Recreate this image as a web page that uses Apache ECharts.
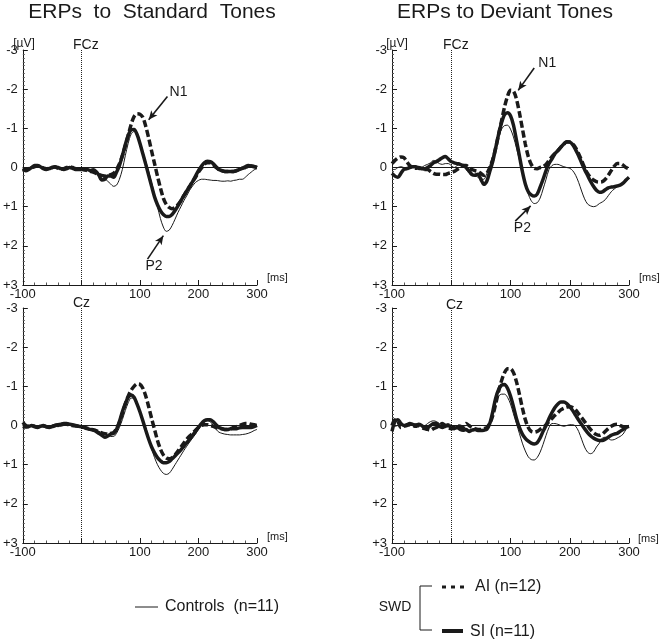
<!DOCTYPE html>
<html><head><meta charset="utf-8">
<script src="https://cdn.jsdelivr.net/npm/echarts@6/dist/echarts.min.js"></script>
<style>html,body{margin:0;padding:0;background:#fff}#c{width:660px;height:642px}</style>
</head><body><div id="c"></div>
<script>
// ---- data (ms, µV) ----
const times = [
  -100, -95, -90, -85, -80, -75, -70, -65, -60, -55,
  -50, -45, -40, -35, -30, -25, -20, -15, -10, -5,
  0, 5, 10, 15, 20, 25, 30, 35, 40, 45,
  50, 55, 60, 65, 70, 75, 80, 85, 90, 95,
  100, 105, 110, 115, 120, 125, 130, 135, 140, 145,
  150, 155, 160, 165, 170, 175, 180, 185, 190, 195,
  200, 205, 210, 215, 220, 225, 230, 235, 240, 245,
  250, 255, 260, 265, 270, 275, 280, 285, 290, 295,
  300];

// Standard tones, FCz
const stdFczCtrl = [
  0.00, 0.03, 0.02, 0.00, -0.03, -0.05, -0.03, 0.00, 0.02, 0.00,
  -0.02, 0.00, 0.03, 0.02, 0.00, -0.02, 0.00, 0.02, 0.03, 0.02,
  0.04, 0.05, 0.05, 0.08, 0.10, 0.12, 0.15, 0.20, 0.28, 0.35,
  0.42, 0.48, 0.45, 0.30, 0.05, -0.30, -0.62, -0.85, -0.92, -0.85,
  -0.65, -0.40, -0.15, 0.10, 0.40, 0.70, 1.00, 1.30, 1.52, 1.63,
  1.60, 1.48, 1.32, 1.15, 1.00, 0.85, 0.72, 0.58, 0.47, 0.38,
  0.33, 0.30, 0.30, 0.31, 0.32, 0.33, 0.33, 0.34, 0.35, 0.35,
  0.34, 0.35, 0.33, 0.32, 0.30, 0.30, 0.25, 0.18, 0.12, 0.06,
  0.03];
const stdFczAI = [
  0.02, 0.05, 0.03, 0.00, -0.02, -0.04, -0.02, 0.01, 0.03, 0.02,
  0.00, -0.01, 0.02, 0.04, 0.03, 0.00, -0.02, 0.00, 0.03, 0.04,
  0.04, 0.05, 0.08, 0.10, 0.12, 0.15, 0.18, 0.20, 0.22, 0.20,
  0.18, 0.15, 0.05, -0.10, -0.30, -0.55, -0.82, -1.10, -1.30, -1.37,
  -1.36, -1.28, -1.05, -0.75, -0.42, -0.10, 0.22, 0.52, 0.78, 0.94,
  1.02, 1.05, 1.02, 0.95, 0.85, 0.72, 0.60, 0.48, 0.36, 0.25,
  0.12, 0.02, -0.08, -0.12, -0.12, -0.08, 0.00, 0.05, 0.08, 0.10,
  0.10, 0.10, 0.10, 0.08, 0.05, 0.02, 0.00, -0.03, -0.04, -0.03,
  0.00];
const stdFczSI = [
  0.05, 0.08, 0.05, 0.00, -0.05, -0.05, -0.02, 0.03, 0.05, 0.03,
  0.00, -0.02, 0.00, 0.03, 0.05, 0.03, 0.00, 0.02, 0.05, 0.05,
  0.05, 0.06, 0.05, 0.08, 0.06, 0.10, 0.20, 0.32, 0.30, 0.22,
  0.22, 0.25, 0.12, -0.05, -0.30, -0.58, -0.82, -0.96, -0.97, -0.85,
  -0.62, -0.35, -0.08, 0.20, 0.48, 0.75, 0.95, 1.10, 1.20, 1.25,
  1.25, 1.20, 1.10, 0.98, 0.85, 0.72, 0.60, 0.48, 0.36, 0.22,
  0.08, -0.03, -0.12, -0.16, -0.15, -0.10, -0.02, 0.05, 0.08, 0.10,
  0.10, 0.10, 0.10, 0.08, 0.05, 0.02, -0.02, -0.05, -0.04, -0.02,
  0.00];

// Deviant tones, FCz
const devFczCtrl = [
  0.05, 0.05, 0.00, -0.02, 0.00, 0.02, 0.00, -0.03, 0.00, 0.02,
  0.00, -0.05, -0.08, -0.12, -0.18, -0.15, -0.10, -0.08, -0.10, -0.10,
  -0.05, 0.00, -0.05, -0.08, -0.05, 0.05, 0.15, 0.20, 0.20, 0.25,
  0.30, 0.30, 0.15, -0.05, -0.30, -0.55, -0.80, -0.98, -1.07, -1.08,
  -0.98, -0.78, -0.50, -0.20, 0.10, 0.42, 0.68, 0.85, 0.92, 0.90,
  0.78, 0.55, 0.30, 0.05, -0.05, -0.08, -0.08, -0.05, -0.02, 0.00,
  0.02, 0.08, 0.20, 0.38, 0.60, 0.80, 0.93, 0.98, 1.00, 0.98,
  0.92, 0.88, 0.82, 0.72, 0.62, 0.55, 0.50, 0.46, 0.42, 0.36,
  0.28];
const devFczAI = [
  -0.10, -0.18, -0.24, -0.27, -0.25, -0.15, -0.05, 0.00, 0.02, 0.00,
  0.02, 0.05, 0.05, 0.10, 0.15, 0.17, 0.17, 0.18, 0.18, 0.15,
  0.13, 0.10, 0.05, 0.00, -0.05, -0.05, 0.00, 0.05, 0.08, 0.10,
  0.15, 0.20, 0.15, 0.00, -0.20, -0.50, -0.85, -1.20, -1.55, -1.82,
  -1.97, -1.95, -1.75, -1.40, -1.00, -0.60, -0.28, -0.08, 0.02, 0.03,
  0.00, -0.02, -0.08, -0.18, -0.28, -0.36, -0.43, -0.52, -0.60, -0.65,
  -0.65, -0.60, -0.50, -0.35, -0.18, 0.00, 0.15, 0.25, 0.32, 0.36,
  0.37, 0.36, 0.30, 0.20, 0.08, -0.03, -0.10, -0.10, -0.06, 0.00,
  0.03];
const devFczSI = [
  0.15, 0.22, 0.25, 0.15, 0.05, 0.03, 0.00, -0.02, -0.02, 0.02,
  0.03, 0.04, 0.00, -0.05, -0.12, -0.15, -0.20, -0.25, -0.28, -0.22,
  -0.15, -0.12, -0.10, -0.08, -0.05, 0.00, 0.08, 0.18, 0.20, 0.17,
  0.30, 0.43, 0.35, 0.10, -0.15, -0.50, -0.85, -1.15, -1.35, -1.40,
  -1.32, -1.08, -0.70, -0.30, 0.10, 0.42, 0.62, 0.70, 0.73, 0.68,
  0.50, 0.30, 0.08, -0.10, -0.22, -0.35, -0.43, -0.52, -0.60, -0.66,
  -0.65, -0.58, -0.45, -0.30, -0.12, 0.05, 0.20, 0.35, 0.48, 0.58,
  0.63, 0.62, 0.57, 0.52, 0.50, 0.49, 0.47, 0.45, 0.40, 0.32,
  0.25];

// Standard tones, Cz
const stdCzCtrl = [
  0.00, 0.02, 0.03, 0.02, 0.00, 0.02, 0.04, 0.03, 0.02, 0.00,
  0.00, 0.02, 0.03, 0.02, 0.00, -0.02, -0.03, -0.02, 0.00, 0.02,
  0.03, 0.05, 0.06, 0.08, 0.10, 0.12, 0.15, 0.18, 0.22, 0.25,
  0.28, 0.28, 0.20, 0.05, -0.15, -0.38, -0.58, -0.70, -0.70, -0.58,
  -0.38, -0.15, 0.10, 0.35, 0.60, 0.82, 1.00, 1.13, 1.22, 1.25,
  1.22, 1.12, 1.00, 0.88, 0.76, 0.64, 0.53, 0.42, 0.32, 0.22,
  0.10, 0.00, -0.08, -0.12, -0.10, 0.00, 0.10, 0.17, 0.20, 0.22,
  0.23, 0.24, 0.24, 0.24, 0.24, 0.23, 0.22, 0.20, 0.17, 0.13,
  0.10];
const stdCzAI = [
  0.02, 0.04, 0.02, 0.00, 0.02, 0.04, 0.03, 0.01, 0.03, 0.04,
  0.02, 0.00, -0.01, -0.03, -0.04, -0.03, -0.02, 0.00, 0.01, 0.02,
  0.04, 0.05, 0.07, 0.09, 0.11, 0.13, 0.16, 0.19, 0.21, 0.22,
  0.20, 0.18, 0.08, -0.08, -0.30, -0.55, -0.75, -0.90, -1.00, -1.06,
  -1.05, -0.95, -0.75, -0.48, -0.18, 0.10, 0.38, 0.60, 0.75, 0.83,
  0.85, 0.82, 0.75, 0.65, 0.55, 0.45, 0.35, 0.27, 0.20, 0.12,
  0.05, 0.00, -0.02, -0.02, 0.00, 0.02, 0.05, 0.08, 0.08, 0.10,
  0.10, 0.08, 0.05, 0.03, 0.00, -0.03, -0.05, -0.05, -0.03, -0.02,
  0.00];
const stdCzSI = [
  -0.08, 0.00, 0.03, 0.00, 0.03, 0.05, 0.02, 0.00, 0.03, 0.05,
  0.03, 0.00, -0.02, -0.03, -0.05, -0.05, -0.03, -0.02, 0.00, 0.02,
  0.03, 0.05, 0.08, 0.10, 0.12, 0.15, 0.20, 0.25, 0.30, 0.27,
  0.22, 0.20, 0.10, -0.10, -0.35, -0.55, -0.72, -0.78, -0.72, -0.55,
  -0.35, -0.12, 0.12, 0.35, 0.55, 0.70, 0.82, 0.90, 0.95, 0.95,
  0.92, 0.85, 0.78, 0.70, 0.62, 0.53, 0.44, 0.35, 0.25, 0.15,
  0.05, -0.05, -0.12, -0.15, -0.15, -0.10, -0.02, 0.05, 0.08, 0.10,
  0.10, 0.08, 0.08, 0.08, 0.06, 0.05, 0.05, 0.05, 0.05, 0.03,
  0.00];

// Deviant tones, Cz
const devCzCtrl = [
  0.00, 0.02, 0.00, -0.02, 0.00, 0.02, 0.00, -0.02, -0.05, -0.03,
  0.00, 0.00, -0.05, -0.10, -0.12, -0.10, -0.05, 0.00, -0.03, -0.05,
  0.00, 0.03, 0.05, 0.05, 0.08, 0.10, 0.12, 0.10, 0.12, 0.15,
  0.15, 0.12, 0.05, -0.10, -0.35, -0.60, -0.75, -0.80, -0.80, -0.72,
  -0.55, -0.30, -0.05, 0.20, 0.45, 0.65, 0.80, 0.87, 0.88, 0.82,
  0.68, 0.48, 0.25, 0.05, -0.05, -0.05, -0.03, 0.00, 0.02, 0.00,
  -0.02, -0.02, 0.02, 0.15, 0.35, 0.55, 0.68, 0.72, 0.68, 0.55,
  0.45, 0.32, 0.30, 0.33, 0.37, 0.36, 0.32, 0.28, 0.22, 0.10,
  0.02];
const devCzAI = [
  0.00, -0.15, -0.10, 0.05, 0.02, 0.00, -0.02, 0.00, 0.02, 0.00,
  0.05, 0.08, 0.10, 0.12, 0.08, 0.05, 0.00, -0.05, 0.00, 0.05,
  0.08, 0.05, 0.00, 0.02, 0.05, -0.05, 0.00, 0.05, 0.08, 0.10,
  0.10, 0.08, 0.05, -0.05, -0.25, -0.55, -0.88, -1.15, -1.35, -1.45,
  -1.45, -1.35, -1.12, -0.80, -0.45, -0.15, 0.05, 0.15, 0.17, 0.15,
  0.10, 0.05, -0.02, -0.10, -0.18, -0.26, -0.33, -0.40, -0.44, -0.47,
  -0.48, -0.46, -0.40, -0.30, -0.20, -0.10, 0.00, 0.10, 0.18, 0.23,
  0.25, 0.22, 0.15, 0.08, 0.02, -0.02, -0.03, 0.00, 0.03, 0.05,
  0.07];
const devCzSI = [
  0.15, -0.10, -0.15, -0.05, 0.00, -0.02, -0.05, -0.03, 0.00, -0.03,
  0.00, 0.05, 0.05, 0.00, -0.05, -0.05, 0.02, 0.05, 0.02, 0.00,
  0.05, 0.08, 0.05, 0.10, 0.12, 0.10, 0.15, 0.12, 0.10, 0.13,
  0.13, 0.12, 0.10, -0.05, -0.35, -0.70, -0.92, -1.03, -1.05, -0.95,
  -0.75, -0.48, -0.18, 0.05, 0.22, 0.33, 0.40, 0.45, 0.47, 0.44,
  0.32, 0.15, 0.00, -0.18, -0.33, -0.46, -0.55, -0.60, -0.60, -0.56,
  -0.48, -0.38, -0.26, -0.14, -0.03, 0.08, 0.18, 0.26, 0.32, 0.36,
  0.38, 0.38, 0.35, 0.30, 0.25, 0.22, 0.20, 0.15, 0.10, 0.05,
  0.02];

const yTicks = ['-3', '-2', '-1', '0', '+1', '+2', '+3'];
const xTickLabels = ['-100', '', '100', '200', '300'];
const panelTitles = ['ERPs  to  Standard  Tones', 'ERPs to Deviant Tones'];
const electrodes = ['FCz', 'FCz', 'Cz', 'Cz'];
const groupNames = ['Controls  (n=11)', 'AI (n=12)', 'SI (n=11)'];

// ---- chart ----
const FONT = "'Liberation Sans', Arial, Helvetica, sans-serif";
const INK = '#1a1a1a';
const chart = echarts.init(document.getElementById('c'), null, { renderer: 'canvas' });

const grids = [
  { left: 21, top: 50, width: 236, height: 235 },
  { left: 392, top: 50, width: 237, height: 235 },
  { left: 21, top: 308, width: 236, height: 235 },
  { left: 392, top: 308, width: 237, height: 235 }
];

function xAx(gi) {
  return {
    gridIndex: gi, type: 'value', min: -100, max: 300, interval: 100,
    axisLine: { show: true, onZero: false, lineStyle: { color: INK, width: 1 } },
    axisTick: { show: true, inside: true, length: 5, lineStyle: { color: INK } },
    minorTick: { show: true, splitNumber: 5, length: 2.5, lineStyle: { color: '#555' } },
    splitLine: { show: false },
    axisLabel: {
      color: INK, fontSize: 13, fontFamily: FONT, margin: 3,
      formatter: (v) => xTickLabels[Math.round((v + 100) / 100)]
    }
  };
}
function yAx(gi) {
  return {
    gridIndex: gi, type: 'value', inverse: true, min: -3, max: 3, interval: 1,
    axisLine: { show: true, onZero: false, lineStyle: { color: INK, width: 1 } },
    axisTick: { show: true, inside: true, length: 5, lineStyle: { color: INK } },
    minorTick: { show: true, splitNumber: 10, length: 2, lineStyle: { color: '#555' } },
    splitLine: { show: false },
    axisLabel: {
      color: INK, fontSize: 13, fontFamily: FONT, margin: 5,
      formatter: (v) => yTicks[Math.round(v + 3)]
    }
  };
}

const pairs = (vals) => times.map((t, i) => [t, vals[i]]);

const styleCtrl = { color: INK, width: 1, type: 'solid' };
const styleAI = { color: INK, width: 3.5, type: [7, 3] };
const styleSI = { color: INK, width: 3.5, type: 'solid' };

const annotations = [
  [ { text: 'N1', at: [166, -1.93], from: [147, -1.81], to: [115, -1.22] },
    { text: 'P2', at: [124, 2.53], from: [113, 2.34], to: [140, 1.74] } ],
  [ { text: 'N1', at: [162, -2.67], from: [140, -2.54], to: [113, -1.97] },
    { text: 'P2', at: [120, 1.56], from: [108, 1.37], to: [134, 0.98] } ],
  [], []
];

const panelData = [
  [stdFczCtrl, stdFczAI, stdFczSI],
  [devFczCtrl, devFczAI, devFczSI],
  [stdCzCtrl, stdCzAI, stdCzSI],
  [devCzCtrl, devCzAI, devCzSI]
];

const series = [];
panelData.forEach((sets, gi) => {
  const base = { type: 'line', xAxisIndex: gi, yAxisIndex: gi, showSymbol: false, symbol: 'none',
                 smooth: 0.3, animation: false, silent: true };
  series.push(Object.assign({}, base, {
    name: groupNames[0], data: pairs(sets[0]), lineStyle: styleCtrl, z: 3,
    markLine: {
      silent: true, symbol: ['none', 'none'], animation: false,
      label: { show: false },
      data: [
        { yAxis: 0, lineStyle: { color: INK, width: 1, type: 'solid' } },
        { xAxis: 0, lineStyle: { color: '#222', width: 1, type: 'dotted' } }
      ]
    }
  }));
  const ann = annotations[gi];
  series.push(Object.assign({}, base, {
    name: groupNames[1], data: pairs(sets[1]), lineStyle: styleAI, z: 4,
    markLine: ann.length ? {
      silent: true, symbol: ['none', 'arrow'], symbolSize: [6, 9], animation: false,
      label: { show: false },
      lineStyle: { color: INK, width: 1.6, type: 'solid' },
      data: ann.map(a => [{ coord: a.from }, { coord: a.to }])
    } : undefined,
    markPoint: ann.length ? {
      silent: true, symbol: 'circle', symbolSize: 1, animation: false,
      itemStyle: { color: 'rgba(0,0,0,0)' },
      label: { show: true, position: 'inside', color: INK, fontSize: 14, fontFamily: FONT,
               formatter: (p) => p.name },
      data: ann.map(a => ({ name: a.text, coord: a.at }))
    } : undefined
  }));
  series.push(Object.assign({}, base, {
    name: groupNames[2], data: pairs(sets[2]), lineStyle: styleSI, z: 5,
    markLine: {
      silent: true, symbol: ['none', 'none'], animation: false,
      label: { show: false },
      lineStyle: { color: '#222', width: 1, type: 'dotted' },
      data: [ [ { coord: [0, 3] }, { coord: [0, 3.3] } ] ]
    }
  }));
});

function txt(x, y, text, size, align) {
  return { type: 'text', x: x, y: y, silent: true,
    style: { text: text, font: size + 'px ' + FONT, fill: INK,
             textAlign: align || 'left', textVerticalAlign: 'middle',
             align: align || 'left', verticalAlign: 'middle' } };
}

const graphics = [
  txt(152, 12, panelTitles[0], 21, 'center'),
  txt(505, 12, panelTitles[1], 21, 'center'),
  txt(24, 44, '[µV]', 12, 'center'),
  txt(397, 44, '[µV]', 12, 'center'),
  txt(73, 45, electrodes[0], 14),
  txt(443, 45, electrodes[1], 14),
  txt(73, 303, electrodes[2], 14),
  txt(446, 305, electrodes[3], 14),
  txt(267, 278, '[ms]', 11),
  txt(639, 278, '[ms]', 11),
  txt(267, 537, '[ms]', 11),
  txt(638, 539, '[ms]', 11),
  // legend
  { type: 'line', silent: true, shape: { x1: 135, y1: 607, x2: 158, y2: 607 }, style: { stroke: INK, lineWidth: 1 } },
  txt(165, 607, groupNames[0], 16),
  txt(395, 607, 'SWD', 14, 'center'),
  { type: 'polyline', silent: true, shape: { points: [[432, 586], [420, 586], [420, 630], [432, 630]] },
    style: { stroke: INK, lineWidth: 1, fill: null } },
  { type: 'line', silent: true, shape: { x1: 442, y1: 587, x2: 466, y2: 587 },
    style: { stroke: INK, lineWidth: 3, lineDash: [4, 5] } },
  txt(475, 587, groupNames[1], 16),
  { type: 'line', silent: true, shape: { x1: 442, y1: 631, x2: 463, y2: 631 }, style: { stroke: INK, lineWidth: 4 } },
  txt(470, 632, groupNames[2], 16)
];

chart.setOption({
  animation: false,
  backgroundColor: '#fff',
  grid: grids,
  xAxis: [0, 1, 2, 3].map(xAx),
  yAxis: [0, 1, 2, 3].map(yAx),
  series: series,
  graphic: { elements: graphics }
});
</script></body></html>
